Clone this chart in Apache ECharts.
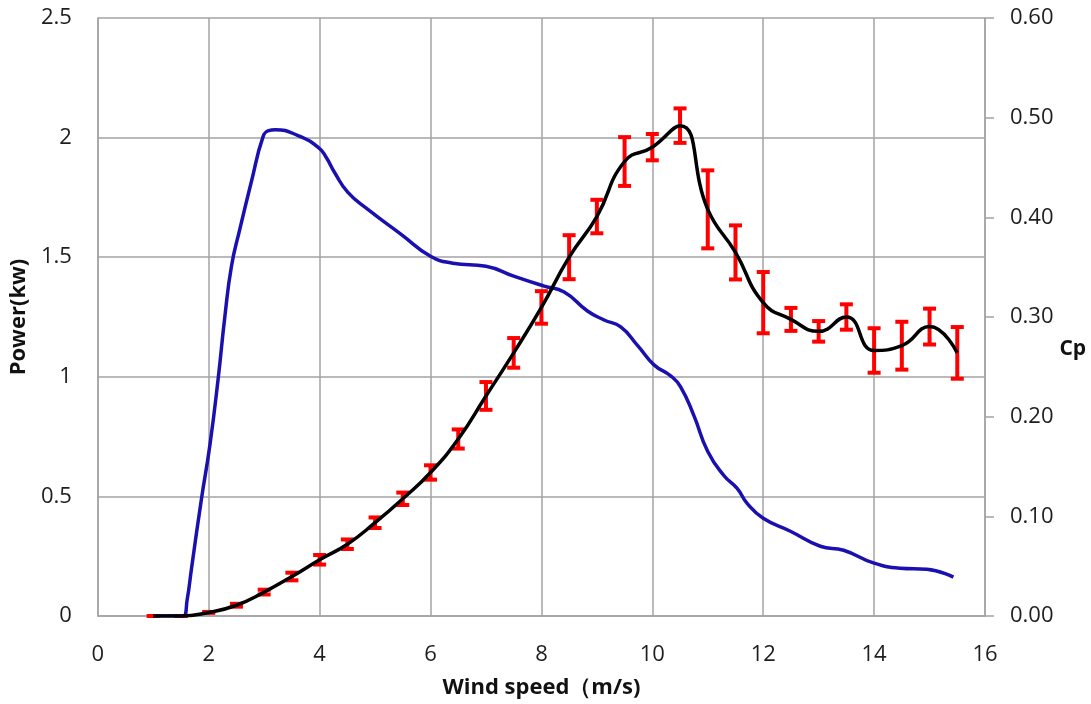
<!DOCTYPE html>
<html>
<head>
<meta charset="utf-8">
<script src="https://cdn.jsdelivr.net/npm/echarts@6/dist/echarts.min.js"></script>
<style>
html,body{margin:0;padding:0;background:#fff;}
#chart{width:1091px;height:704px;}
</style>
</head>
<body>
<div id="chart"></div>
<script>
// Wind speed (m/s) for power measurements
const windSpeed = [1, 1.5, 2, 2.5, 3, 3.5, 4, 4.5, 5, 5.5, 6, 6.5, 7, 7.5, 8, 8.5, 9, 9.5, 10, 10.5, 11, 11.5, 12, 12.5, 13, 13.5, 14, 14.5, 15, 15.5];
// Power (kw), mean
const power = [0.00, 0.00, 0.015, 0.045, 0.10, 0.165, 0.235, 0.30, 0.39, 0.49, 0.60, 0.74, 0.92, 1.10, 1.29, 1.50, 1.67, 1.90, 1.96, 2.05, 1.70, 1.52, 1.31, 1.24, 1.19, 1.25, 1.11, 1.13, 1.21, 1.10];
// Power error (+/-)
const powerErr = [0.0, 0.0, 0.002, 0.006, 0.01, 0.016, 0.02, 0.02, 0.022, 0.026, 0.03, 0.04, 0.058, 0.062, 0.068, 0.092, 0.07, 0.102, 0.055, 0.072, 0.163, 0.113, 0.128, 0.048, 0.043, 0.053, 0.093, 0.10, 0.075, 0.108];
// Cp curve
const cpSpeed = [1.0, 1.54, 1.61, 1.69, 1.87, 2.02, 2.17, 2.29, 2.41, 2.56, 2.77, 2.98, 3.08, 3.2, 3.61, 3.98, 4.12, 4.27, 4.51, 4.87, 5.47, 6.0, 6.4, 7.0, 7.5, 8.05, 8.41, 8.83, 9.13, 9.43, 9.74, 10.03, 10.33, 10.51, 10.75, 11.0, 11.29, 11.53, 11.71, 12.0, 12.49, 13.03, 13.45, 14.0, 14.47, 14.95, 15.43];
const cp = [0.000, 0.000, 0.016, 0.048, 0.118, 0.171, 0.238, 0.300, 0.351, 0.388, 0.436, 0.481, 0.487, 0.488, 0.482, 0.470, 0.460, 0.445, 0.425, 0.408, 0.383, 0.361, 0.354, 0.351, 0.341, 0.331, 0.325, 0.306, 0.297, 0.290, 0.271, 0.252, 0.241, 0.230, 0.201, 0.165, 0.141, 0.128, 0.113, 0.098, 0.085, 0.070, 0.066, 0.053, 0.048, 0.047, 0.039];

const xTicks = {min: 0, max: 16, interval: 2};
const powerTicks = {min: 0, max: 2.5, interval: 0.5};
const cpTicks = {min: 0, max: 0.6, interval: 0.1};

const FONT = '"Open Sans", "Noto Sans", sans-serif';
const GRID_COLOR = '#a3a3a3';
const LABEL_COLOR = '#1e1e1e';

const powerData = windSpeed.map((x, i) => [x, power[i]]);
const cpData = cpSpeed.map((x, i) => [x, cp[i]]);
const errData = windSpeed.map((x, i) => [x, power[i] - powerErr[i], power[i] + powerErr[i]]);

const chart = echarts.init(document.getElementById('chart'), null, {renderer: 'canvas'});
chart.setOption({
  animation: false,
  backgroundColor: '#ffffff',
  grid: {left: 96, right: 106, top: 18, bottom: 86, containLabel: false},
  xAxis: {
    type: 'value',
    min: xTicks.min, max: xTicks.max, interval: xTicks.interval,
    name: 'Wind speed（m/s)',
    nameLocation: 'middle',
    nameGap: 61,
    nameTextStyle: {fontFamily: FONT, fontWeight: 'bold', fontSize: 22, color: '#111'},
    axisLine: {show: true, lineStyle: {color: GRID_COLOR, width: 1.5}},
    axisTick: {show: false},
    axisLabel: {fontFamily: FONT, fontSize: 22, color: LABEL_COLOR, margin: 28},
    splitLine: {show: true, lineStyle: {color: GRID_COLOR, width: 1.5}}
  },
  yAxis: [
    {
      type: 'value',
      min: powerTicks.min, max: powerTicks.max, interval: powerTicks.interval,
      name: 'Power(kw)',
      nameLocation: 'middle',
      nameGap: 60,
      nameRotate: 90,
      nameTextStyle: {fontFamily: FONT, fontWeight: 'bold', fontSize: 22, color: '#111'},
      axisLine: {show: true, lineStyle: {color: GRID_COLOR, width: 1.5}},
      axisTick: {show: false},
      axisLabel: {fontFamily: FONT, fontSize: 22, color: LABEL_COLOR, margin: 26},
      splitLine: {show: true, lineStyle: {color: GRID_COLOR, width: 1.5}}
    },
    {
      type: 'value',
      position: 'right',
      min: cpTicks.min, max: cpTicks.max, interval: cpTicks.interval,
      name: 'Cp',
      nameLocation: 'middle',
      nameGap: 72,
      nameRotate: 0,
      nameTextStyle: {fontFamily: FONT, fontWeight: 'bold', fontSize: 21, color: '#111', align: 'left', verticalAlign: 'top', padding: [22, 0, 0, 0]},
      axisLine: {show: true, lineStyle: {color: GRID_COLOR, width: 1.5}},
      axisTick: {show: true, inside: false, length: 9, lineStyle: {color: GRID_COLOR, width: 1.5}},
      axisLabel: {fontFamily: FONT, fontSize: 22, color: LABEL_COLOR, margin: 25, formatter: v => v.toFixed(2)},
      splitLine: {show: false}
    }
  ],
  series: [
    {
      name: 'Power error',
      type: 'custom',
      xAxisIndex: 0,
      yAxisIndex: 0,
      z: 2,
      encode: {x: 0, y: [1, 2]},
      data: errData,
      renderItem: function (params, api) {
        const x = api.value(0);
        const pLo = api.coord([x, api.value(1)]);
        const pHi = api.coord([x, api.value(2)]);
        const hw = 6.5;
        const style = {stroke: '#ff0000', lineWidth: 4, fill: null};
        return {
          type: 'group',
          children: [
            {type: 'line', shape: {x1: pLo[0], y1: pLo[1], x2: pHi[0], y2: pHi[1]}, style: style},
            {type: 'line', shape: {x1: pLo[0] - hw, y1: pLo[1], x2: pLo[0] + hw, y2: pLo[1]}, style: style},
            {type: 'line', shape: {x1: pHi[0] - hw, y1: pHi[1], x2: pHi[0] + hw, y2: pHi[1]}, style: style}
          ]
        };
      }
    },
    {
      name: 'Cp',
      type: 'line',
      yAxisIndex: 1,
      z: 3,
      data: cpData,
      smooth: 0.5,
      symbol: 'none',
      lineStyle: {color: '#1a10b0', width: 3.5}
    },
    {
      name: 'Power',
      type: 'line',
      yAxisIndex: 0,
      z: 4,
      data: powerData,
      smooth: 0.5,
      symbol: 'none',
      lineStyle: {color: '#000000', width: 3.5}
    }
  ]
});
</script>
</body>
</html>
